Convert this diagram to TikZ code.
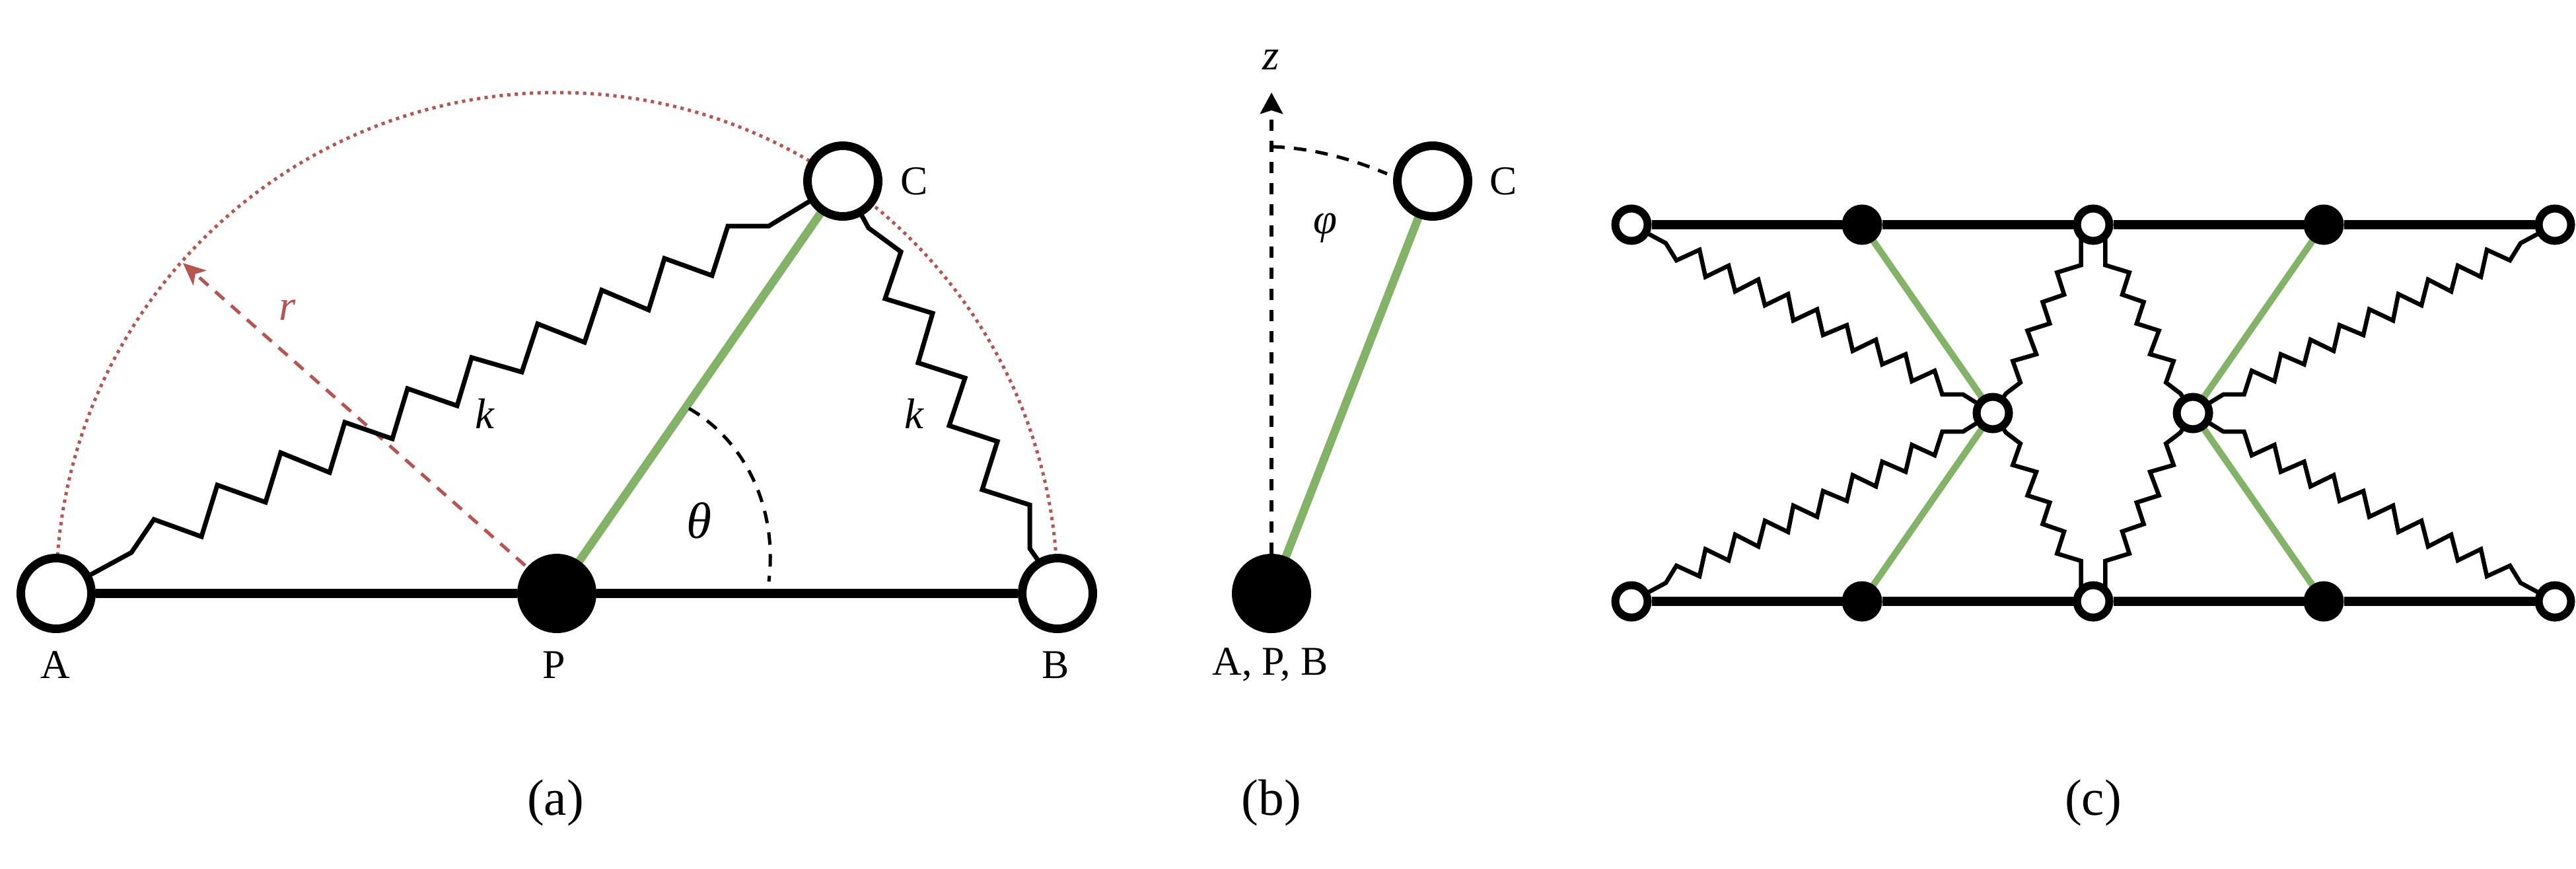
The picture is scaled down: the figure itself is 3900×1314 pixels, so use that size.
\documentclass[tikz,border=0pt]{standalone}
\usepackage{fontspec}
\setmainfont{Liberation Serif}
\usetikzlibrary{arrows.meta,calc,backgrounds}
\definecolor{grn}{HTML}{82B366}
\definecolor{rdd}{HTML}{B85450}
\tikzset{
  x=0.1mm, y=-0.1mm,
  ringbig/.style={circle,draw=black,fill=white,line width=1.3mm,minimum size=10.7mm,inner sep=0pt},
  dotbig/.style={ringbig,fill=black},
  ringsmall/.style={circle,draw=black,fill=white,line width=1.2mm,minimum size=4.9mm,inner sep=0pt},
  dotsmall/.style={ringsmall,fill=black},
  bar/.style={line width=1.35mm,draw=black},
  rodbig/.style={line width=1.25mm,draw=grn},
  rodsmall/.style={line width=1.0mm,draw=grn},
  springa/.style={line width=0.7mm,draw=black,line join=miter},
  springc/.style={line width=0.65mm,draw=black,line join=miter},
  reddots/.style={line width=0.5mm,draw=rdd,dash pattern=on 0.5mm off 0.65mm},
  reddash/.style={line width=0.5mm,draw=rdd,dash pattern=on 1.8mm off 1.4mm},
  angdash/.style={line width=0.5mm,draw=black,dash pattern=on 1.9mm off 1.4mm},
  axisdash/.style={line width=0.65mm,draw=black,dash pattern=on 1.7mm off 1.5mm},
  lbl/.style={inner sep=0pt,font=\fontsize{17.6pt}{20pt}\selectfont},
  captxt/.style={inner sep=0pt,font=\fontsize{22pt}{24pt}\selectfont},
  ital/.style={inner sep=0pt,font=\fontsize{18.5pt}{20pt}\selectfont\itshape},
}
\newcommand{\springc}[5]{\draw[springc] (#1.center) \foreach \xx/\yy in #5 { -- ($(#1)+(#3*\xx,#4*\yy)$) } -- (#2.center);}
\newcommand{\outerlist}{52/28,68/54,103/38,112/79,147/62,157/101,192/83,202/122,237/105,245/145,281/128,290/167,326/152,335/191,370/174,379.6/211.4,415/196.1,424.6/236.8,459/221,470.5/256.9,502/256.9}
\newcommand{\innerlist}{18.4/10,18.4/61.2,54.7/72.3,44/105.8,76.5/117,65.8/149.6,99.5/160.3,86.1/196,121.7/206.3,110.2/238.8,132/255.4}
\begin{document}
\begin{tikzpicture}
\useasboundingbox (0,0) rectangle (3900,1314);
% ---------- (a)
\node[ringbig] (Aa) at (85,898) {};
\node[dotbig] (Pa) at (843,898) {};
\node[ringbig] (Ba) at (1601,898) {};
\node[ringbig] (Ca) at (1276,274) {};
\coordinate (rtip) at (277,398);
\coordinate (tha) at (1043,618);
\coordinate (thb) at (1164,880);
\begin{scope}[on background layer]
  \draw[reddots] (Pa.center) ++(-758,0) arc[start angle=180,end angle=0,radius=7.58cm];
  \draw[bar] (Aa) -- (Pa);
  \draw[bar] (Pa) -- (Ba);
  \draw[rodbig] (Pa.center) -- (Ca.center);
  \draw[reddash,-{Stealth[length=3.4mm,width=3mm,inset=0.9mm]}] (Pa.center) -- (rtip);
  \draw[springa] (Aa.center) -- (199,836) -- (233,786) -- (305,812) -- (329,734) -- (402,760) -- (425,685) -- (499,715) -- (522,639) -- (594,664) -- (617,588) -- (692,614) -- (714,541) -- (790,563) -- (814,490) -- (885,518) -- (911,439) -- (982,469) -- (1006,391) -- (1078,417) -- (1102,342) -- (1164,342) -- (Ca.center);
  \draw[springa] (Ca.center) -- (1315,345) -- (1364,381) -- (1340,452) -- (1412,474) -- (1390,549) -- (1461,572) -- (1437,644) -- (1510,668) -- (1487,741) -- (1559,764) -- (1559,830) -- (1571,847) -- (Ba.center);
  \draw[angdash] (tha) .. controls (1125,665) and (1178,765) .. (thb);
\end{scope}
\node[lbl] (lA) at (84,1006) {A};
\node[lbl] (lP) at (839,1006) {P};
\node[lbl] (lB) at (1598,1006) {B};
\node[lbl] (lC) at (1384,274) {C};
\node[ital,text=rdd] (lr) at (435,469) {r};
\node[ital] (lk1) at (734,626) {k};
\node[ital] (lk2) at (1384,626) {k};
\node[ital,font=\fontsize{22pt}{24pt}\selectfont\itshape] (lth) at (1058,788) {θ};
\node[captxt] (capa) at (841,1215) {(a)};
% ---------- (b)
\node[dotbig] (Pb) at (1925,898) {};
\node[ringbig] (Cb) at (2169,274) {};
\coordinate (ztip) at (1925,140);
\coordinate (pha) at (1926,222);
\coordinate (phb) at (2100,263);
\begin{scope}[on background layer]
  \draw[rodbig] (Pb.center) -- (Cb.center);
  \draw[axisdash,-{Stealth[length=3.2mm,width=3.4mm,inset=0.5mm]}] (Pb) -- (ztip);
  \draw[angdash] (pha) .. controls (1990,224) and (2050,242) .. (phb);
\end{scope}
\node[ital] (lz) at (1924,91) {z};
\node[ital] (lph) at (2006,345) {φ};
\node[lbl] (lCb) at (2276,274) {C};
\node[lbl] (lapb) at (1923,1006) {A, P, B};
\node[captxt] (capb) at (1925,1215) {(b)};
% ---------- (c)
\node[ringsmall] (n1) at (2470,340) {};
\node[dotsmall] (n2) at (2819,340) {};
\node[ringsmall] (n3) at (3169,340) {};
\node[dotsmall] (n4) at (3518,340) {};
\node[ringsmall] (n5) at (3868,340) {};
\node[ringsmall] (s1) at (2470,910) {};
\node[dotsmall] (s2) at (2819,910) {};
\node[ringsmall] (s3) at (3169,910) {};
\node[dotsmall] (s4) at (3518,910) {};
\node[ringsmall] (s5) at (3868,910) {};
\node[ringsmall] (mL) at (3017,625) {};
\node[ringsmall] (mR) at (3320,625) {};
\begin{scope}[on background layer]
  \draw[bar] (n1) -- (n2) -- (n3) -- (n4) -- (n5);
  \draw[bar] (s1) -- (s2) -- (s3) -- (s4) -- (s5);
  \draw[rodsmall] (n2.center) -- (mL.center);
  \draw[rodsmall] (s2.center) -- (mL.center);
  \draw[rodsmall] (n4.center) -- (mR.center);
  \draw[rodsmall] (s4.center) -- (mR.center);
  \springc{n1}{mL}{1}{1}{\outerlist}
  \springc{s1}{mL}{1}{-1}{\outerlist}
  \springc{n5}{mR}{-1}{1}{\outerlist}
  \springc{s5}{mR}{-1}{-1}{\outerlist}
  \springc{n3}{mL}{-1}{1}{\innerlist}
  \springc{n3}{mR}{1}{1}{\innerlist}
  \springc{s3}{mL}{-1}{-1}{\innerlist}
  \springc{s3}{mR}{1}{-1}{\innerlist}
\end{scope}
\node[captxt] (capc) at (3169,1215) {(c)};
\end{tikzpicture}
\end{document}
